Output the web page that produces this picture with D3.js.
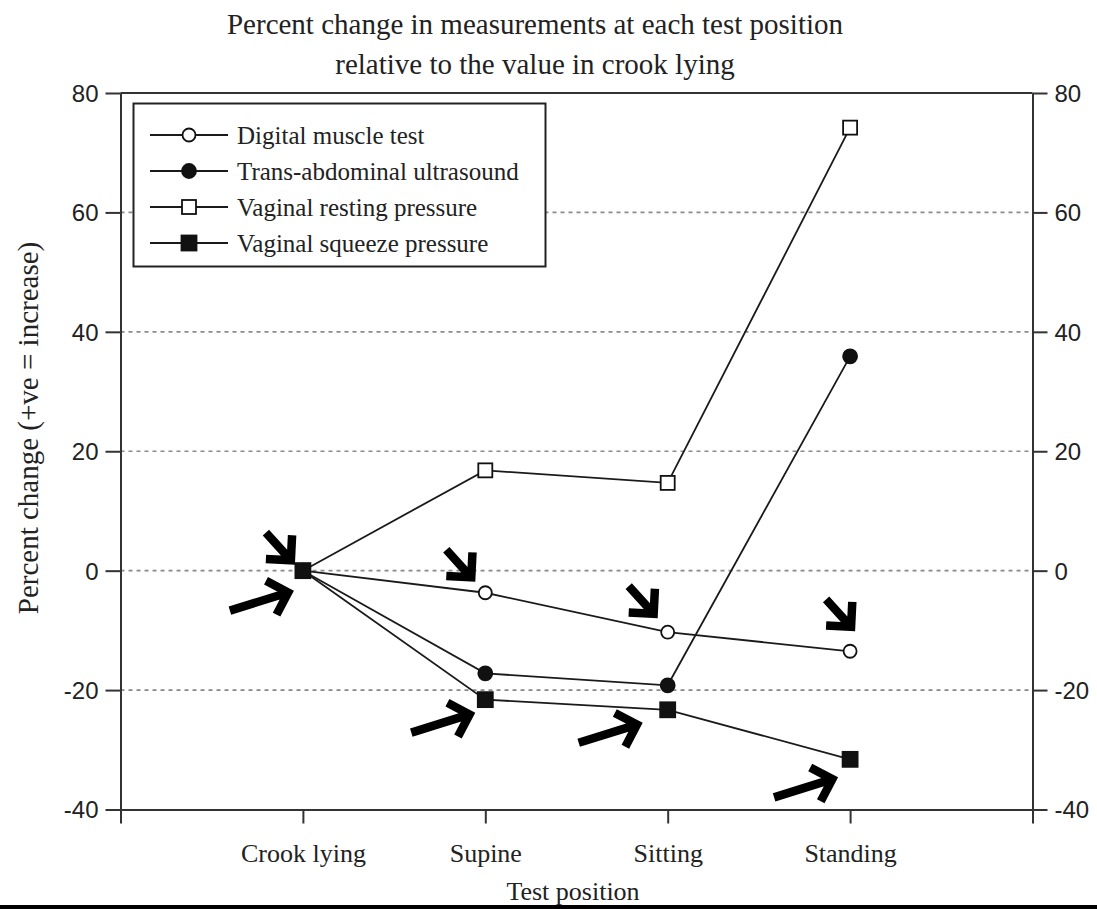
<!DOCTYPE html>
<html>
<head>
<meta charset="utf-8">
<script src="https://cdn.jsdelivr.net/npm/d3@7"></script>
<style>
  body { margin: 0; background: #fff; }
  svg { display: block; }
</style>
</head>
<body>
<svg id="chart" width="1097" height="909"></svg>
<script>
// Test positions and percent change of each measurement relative to crook lying
const positions = ["Crook lying", "Supine", "Sitting", "Standing"];
const digitalMuscle = [0, -3.7, -10.3, -13.5];
const transAbdominal = [0, -17.2, -19.2, 35.9];
const vaginalResting = [0, 16.8, 14.7, 74.2];
const vaginalSqueeze = [0, -21.6, -23.3, -31.6];
const seriesNames = ["Digital muscle test", "Trans-abdominal ultrasound", "Vaginal resting pressure", "Vaginal squeeze pressure"];
const yTicks = [-40, -20, 0, 20, 40, 60, 80];
const gridValues = [-20, 0, 20, 40, 60];

// Arrow call-outs: which point they mark and which way they point
const arrowPositions = ["Crook lying", "Crook lying", "Supine", "Supine", "Sitting", "Sitting", "Standing", "Standing"];
const arrowSeries = [3, 3, 0, 3, 0, 3, 0, 3];
const arrowKinds = ["down", "right", "down", "right", "down", "right", "down", "right"];

const series = [
  { name: seriesNames[0], values: digitalMuscle, shape: "circle", filled: false },
  { name: seriesNames[1], values: transAbdominal, shape: "circle", filled: true },
  { name: seriesNames[2], values: vaginalResting, shape: "square", filled: false },
  { name: seriesNames[3], values: vaginalSqueeze, shape: "square", filled: true }
];

const serif = "'Liberation Serif', 'Times New Roman', serif";
const sans = "'Liberation Sans', Arial, sans-serif";
const ink = "#1a1a1a";

const svg = d3.select("#chart");
const plotLeft = 120.5, plotRight = 1032.5, plotTop = 93, plotBottom = 809.5;

// Positions sit at 1..4 on a 0..5 axis so there is space at either end
const x = d3.scaleLinear().domain([0, positions.length + 1]).range([plotLeft, plotRight]);
const xPos = name => x(positions.indexOf(name) + 1);
const y = d3.scaleLinear().domain([-40, 80]).range([plotBottom, plotTop]);

// Dotted horizontal gridlines
svg.append("g")
  .selectAll("line")
  .data(gridValues)
  .join("line")
  .attr("x1", plotLeft).attr("x2", plotRight)
  .attr("y1", d => y(d)).attr("y2", d => y(d))
  .attr("stroke", "#8a8a8a")
  .attr("stroke-width", 1.6)
  .attr("stroke-dasharray", "4,4");

// Frame: top edge
svg.append("line").attr("x1", plotLeft).attr("x2", plotRight).attr("y1", plotTop).attr("y2", plotTop)
  .attr("stroke", "#333").attr("stroke-width", 2);

function styleAxis(g) {
  g.selectAll("path.domain").attr("stroke", "#333").attr("stroke-width", 2);
  g.selectAll(".tick line").attr("stroke", "#333").attr("stroke-width", 2);
}

// Left and right value axes (plain hyphen for negatives)
const tickText = d => String(d);
const leftAxis = svg.append("g").attr("transform", `translate(${plotLeft},0)`)
  .call(d3.axisLeft(y).tickValues(yTicks).tickFormat(tickText).tickSize(15).tickSizeOuter(0).tickPadding(7));
const rightAxis = svg.append("g").attr("transform", `translate(${plotRight},0)`)
  .call(d3.axisRight(y).tickValues(yTicks).tickFormat(tickText).tickSize(15).tickSizeOuter(0).tickPadding(7));
[leftAxis, rightAxis].forEach(g => {
  styleAxis(g);
  g.selectAll(".tick text")
    .attr("font-family", sans).attr("font-size", 24).attr("fill", "#222")
    .attr("dy", "0.35em");
});

// Bottom category axis
const bottomAxis = svg.append("g").attr("transform", `translate(0,${plotBottom})`)
  .call(d3.axisBottom(x)
    .tickValues(d3.range(0, positions.length + 2))
    .tickSize(14).tickSizeOuter(0).tickPadding(20)
    .tickFormat(i => positions[i - 1] || ""));
styleAxis(bottomAxis);
bottomAxis.selectAll(".tick text")
  .attr("font-family", serif).attr("font-size", 26).attr("fill", "#222");

// Lines for each series
const line = d3.line().x((d, i) => x(i + 1)).y(d => y(d));
svg.append("g")
  .selectAll("path")
  .data(series)
  .join("path")
  .attr("d", s => line(s.values))
  .attr("fill", "none")
  .attr("stroke", ink)
  .attr("stroke-width", 1.8);

function drawMarker(g, s, cx, cy) {
  if (s.shape === "circle") {
    g.append("circle").attr("cx", cx).attr("cy", cy)
      .attr("r", s.filled ? 7 : 6.5)
      .attr("fill", s.filled ? "#111" : "#fff")
      .attr("stroke", "#111").attr("stroke-width", 1.8);
  } else {
    const h = s.filled ? 7.5 : 7;
    g.append("rect").attr("x", cx - h).attr("y", cy - h)
      .attr("width", 2 * h).attr("height", 2 * h)
      .attr("fill", s.filled ? "#111" : "#fff")
      .attr("stroke", "#111").attr("stroke-width", 1.8);
  }
}

// Markers
const markers = svg.append("g");
series.forEach(s => {
  s.values.forEach((v, i) => drawMarker(markers, s, x(i + 1), y(v)));
});

// Legend
const legend = svg.append("g");
legend.append("rect")
  .attr("x", 133.5).attr("y", 103.5).attr("width", 412).attr("height", 163)
  .attr("fill", "#fff").attr("stroke", "#222").attr("stroke-width", 2);
series.forEach((s, i) => {
  const ly = 135 + i * 36;
  legend.append("line").attr("x1", 150).attr("x2", 228).attr("y1", ly).attr("y2", ly)
    .attr("stroke", ink).attr("stroke-width", 1.8);
  drawMarker(legend, s, 189, ly);
  legend.append("text").attr("x", 237).attr("y", ly).attr("dy", "0.35em")
    .attr("font-family", serif).attr("font-size", 25).attr("fill", "#222")
    .text(s.name);
});

// Arrow call-outs pointing at selected points
const arrowShape = {
  down:  { vx: 29, vy: 32, tipDx: -8, tipDy: -6 },
  right: { vx: 64, vy: -20, tipDx: -10, tipDy: 14 }
};
const arrowTipAdjust = [[0, 0], [1, 6], [-2, -5], [0, -1], [-2, -8], [-15, -1], [13, -14], [-2, 4]];
const arrows = svg.append("g");
const strokeW = 8.5;
arrowPositions.forEach((p, k) => {
  const shape = arrowShape[arrowKinds[k]];
  const idx = positions.indexOf(p);
  const px = xPos(p), py = y(series[arrowSeries[k]].values[idx]);
  const len = Math.hypot(shape.vx, shape.vy);
  const dx = shape.vx / len, dy = shape.vy / len;
  // pull the vertex back so the mitred point lands on the intended tip
  const back = (strokeW / 2) / Math.sin(Math.PI / 4);
  const tx = px + shape.tipDx + arrowTipAdjust[k][0] - dx * back;
  const ty = py + shape.tipDy + arrowTipAdjust[k][1] - dy * back;
  const sx = tx - shape.vx + dx * back, sy = ty - shape.vy + dy * back;
  const arm = 25, ang = Math.PI / 4;
  const rot = a => [-dx * Math.cos(a) + dy * Math.sin(a), -dx * Math.sin(a) - dy * Math.cos(a)];
  const [ax, ay] = rot(ang), [bx, by] = rot(-ang);
  arrows.append("path")
    .attr("d", `M${sx},${sy}L${tx},${ty}M${tx + ax * arm},${ty + ay * arm}L${tx},${ty}L${tx + bx * arm},${ty + by * arm}`)
    .attr("fill", "none").attr("stroke", "#000").attr("stroke-width", strokeW)
    .attr("stroke-linejoin", "miter").attr("stroke-linecap", "butt");
});

// Titles
svg.append("text").attr("x", 535).attr("y", 34).attr("text-anchor", "middle")
  .attr("font-family", serif).attr("font-size", 29).attr("fill", "#222")
  .text("Percent change in measurements at each test position");
svg.append("text").attr("x", 535).attr("y", 74).attr("text-anchor", "middle")
  .attr("font-family", serif).attr("font-size", 29).attr("fill", "#222")
  .text("relative to the value in crook lying");
svg.append("text").attr("transform", "translate(38,428) rotate(-90)").attr("text-anchor", "middle")
  .attr("font-family", serif).attr("font-size", 29).attr("fill", "#222")
  .text("Percent change (+ve = increase)");
svg.append("text").attr("x", 573).attr("y", 900).attr("text-anchor", "middle")
  .attr("font-family", serif).attr("font-size", 26).attr("fill", "#222")
  .text("Test position");

// Black band along the bottom edge
svg.append("rect").attr("x", 0).attr("y", 905).attr("width", 1097).attr("height", 4).attr("fill", "#000");
</script>
</body>
</html>
